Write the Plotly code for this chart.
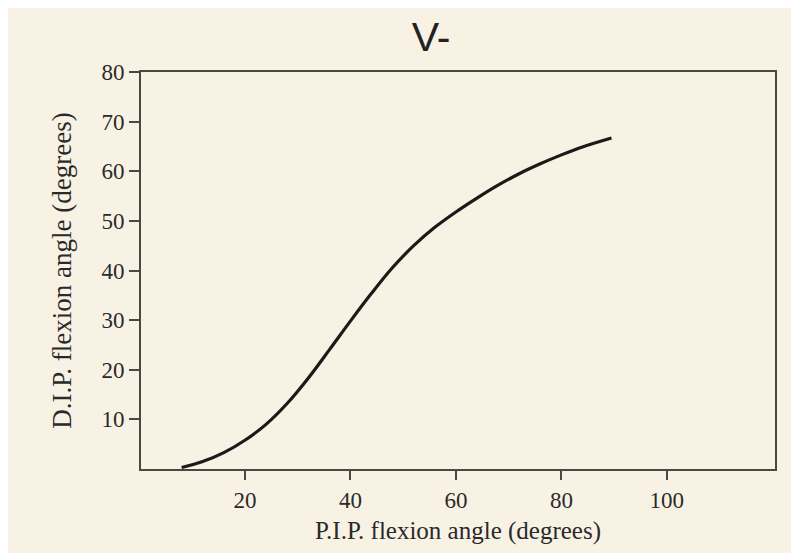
import plotly.graph_objects as go

pip_angle = [8, 12, 16, 20, 24, 28, 32, 36, 40, 44, 48, 52, 56, 60, 64, 68, 72, 76, 80, 84, 89.5]
dip_angle = [0.3, 1.5, 3.3, 5.8, 9.0, 13.2, 18.3, 24.0, 29.8, 35.4, 40.6, 45.0, 48.7, 51.8, 54.6, 57.2, 59.5, 61.5, 63.3, 64.9, 66.7]

x_ticks = [20, 40, 60, 80, 100]
y_ticks = [10, 20, 30, 40, 50, 60, 70, 80]

cream = "#f8f2e5"
axis_col = "#4a4840"

fig = go.Figure()
fig.add_trace(go.Scatter(
    x=pip_angle, y=dip_angle, mode="lines",
    line=dict(color="#1c1a18", width=3.2, shape="spline", smoothing=1.0),
    showlegend=False, hoverinfo="skip",
))

W, H = 799, 553
OFF = 8  # page body margin offset
L, T = 141 - OFF, 72 - OFF
R = W - (775 - OFF)
B = H - (469 - OFF)
pw = W - L - R

serif = "Liberation Serif, Times New Roman, serif"

fig.update_layout(
    width=W, height=H,
    margin=dict(l=L, r=R, t=T, b=B),
    paper_bgcolor=cream,
    plot_bgcolor=cream,
    title=dict(text="V-", x=(431 - OFF - L) / pw, xref="paper", xanchor="center",
               y=1 - (37 - OFF) / H, yref="container", yanchor="middle",
               font=dict(family="Liberation Sans, Arial, sans-serif", size=41, color="#222222")),
    xaxis=dict(
        range=[0.3, 120.5], tickvals=x_ticks, ticktext=[str(v) for v in x_ticks],
        ticks="outside", ticklen=9, tickwidth=1.5, tickcolor=axis_col,
        showline=True, linecolor=axis_col, linewidth=2, mirror=True,
        showgrid=False, zeroline=False,
        tickfont=dict(family=serif, size=23, color="#2a2a2a"),
        title=dict(text="P.I.P. flexion angle (degrees)", standoff=10,
                   font=dict(family=serif, size=25, color="#2a2a2a")),
    ),
    yaxis=dict(
        range=[0, 80], tickvals=y_ticks, ticktext=[str(v) for v in y_ticks],
        ticks="outside", ticklen=10, tickwidth=1.5, tickcolor=axis_col,
        showline=True, linecolor=axis_col, linewidth=2, mirror=True,
        showgrid=False, zeroline=False,
        tickfont=dict(family=serif, size=23, color="#2a2a2a"),
        title=dict(text="D.I.P. flexion angle (degrees)", standoff=22,
                   font=dict(family=serif, size=27, color="#2a2a2a")),
    ),
)

fig.write_html("out.html")
